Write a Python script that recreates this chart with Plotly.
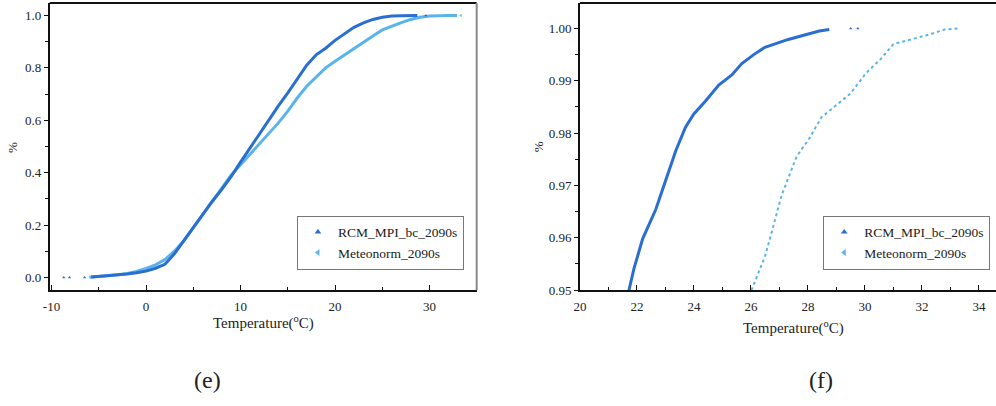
import plotly.graph_objects as go

# ---------------- data ----------------
# (e) full CDF
rcm_T = [-5.8, -5, -4, -3, -2, -1, 0, 1, 2, 3, 4, 5, 6, 7, 8, 9, 10, 11, 12, 13, 14,
         15, 16, 17, 18, 19, 20, 21, 22, 23, 24, 25, 26, 27, 28, 28.7]
rcm_P = [0.002, 0.004, 0.006, 0.009, 0.013, 0.018, 0.024, 0.035, 0.05, 0.09, 0.14,
         0.19, 0.24, 0.29, 0.335, 0.385, 0.44, 0.495, 0.55, 0.605, 0.655, 0.705, 0.76,
         0.81, 0.85, 0.875, 0.905, 0.93, 0.955, 0.972, 0.985, 0.993, 0.998, 0.9995, 1.0, 1.0]
rcm_iso_T = [-8.7, -8.1, -6.5, 29.6]
rcm_iso_P = [0.0, 0.0, 0.0, 1.0]

met_T = [-6, -5, -4, -3, -2, -1, 0, 1, 2, 3, 4, 5, 6, 7, 8, 9, 10, 11, 12, 13, 14, 15,
         16, 17, 18, 19, 20, 21, 22, 23, 24, 25, 26, 27, 28, 29, 30, 31, 32, 32.9]
met_P = [0.001, 0.003, 0.006, 0.01, 0.015, 0.023, 0.034, 0.048, 0.068, 0.1, 0.14, 0.19,
         0.24, 0.29, 0.34, 0.39, 0.43, 0.47, 0.51, 0.55, 0.59, 0.635, 0.685, 0.73, 0.765,
         0.8, 0.825, 0.85, 0.875, 0.9, 0.922, 0.945, 0.96, 0.973, 0.985, 0.993, 0.998,
         1.0, 1.0, 1.0]
met_iso_T = [33.3]
met_iso_P = [1.0]

# (f) upper tail
rcm_tail_T = [21.72, 21.9, 22.2, 22.66, 23.01, 23.36, 23.7, 23.99, 24.4, 24.87, 25.33,
              25.68, 26.1, 26.49, 27.31, 28.0, 28.4, 28.75]
rcm_tail_P = [0.95, 0.9542, 0.9598, 0.9654, 0.971, 0.9766, 0.9811, 0.9836, 0.9861,
              0.9892, 0.9911, 0.9933, 0.995, 0.9964, 0.9979, 0.9989, 0.9995, 0.9998]
rcm_tail_iso_T = [29.5, 29.75]
rcm_tail_iso_P = [1.0, 1.0]

met_tail_T = [26.02, 26.14, 26.32, 26.49, 26.7, 27.07, 27.6, 28.05, 28.47, 28.8, 29.5,
              30.03, 30.56, 31.0, 31.6, 32.3, 32.8, 33.3]
met_tail_P = [0.95, 0.9517, 0.9542, 0.9564, 0.9605, 0.968, 0.9755, 0.979, 0.983, 0.9845,
              0.9876, 0.9914, 0.9942, 0.997, 0.9979, 0.9989, 0.9998, 1.0]

series_names = ["RCM_MPI_bc_2090s", "Meteonorm_2090s"]
xticks_e = [-10, 0, 10, 20, 30]
yticks_e = [0.0, 0.2, 0.4, 0.6, 0.8, 1.0]
xticks_f = [20, 22, 24, 26, 28, 30, 32, 34]
yticks_f = [0.95, 0.96, 0.97, 0.98, 0.99, 1.00]

# ---------------- styling ----------------
DARK = "#2a6ed2"
LIGHT = "#5ab4eb"
FONT = "Liberation Serif, Times New Roman, serif"
TXT = "#222222"
W, H = 996, 406

fig = go.Figure()

# left panel
fig.add_trace(go.Scatter(x=met_T, y=met_P, mode="lines", line=dict(color=LIGHT, width=3),
                         showlegend=False, xaxis="x", yaxis="y"))
fig.add_trace(go.Scatter(x=rcm_T, y=rcm_P, mode="lines", line=dict(color=DARK, width=3),
                         showlegend=False, xaxis="x", yaxis="y"))
fig.add_trace(go.Scatter(x=rcm_iso_T, y=rcm_iso_P, mode="markers",
                         marker=dict(symbol="triangle-up", size=3, color=DARK),
                         showlegend=False, xaxis="x", yaxis="y"))
fig.add_trace(go.Scatter(x=met_iso_T, y=met_iso_P, mode="markers",
                         marker=dict(symbol="triangle-left", size=3, color=LIGHT),
                         showlegend=False, xaxis="x", yaxis="y"))

# right panel
fig.add_trace(go.Scatter(x=met_tail_T, y=met_tail_P, mode="lines",
                         line=dict(color=LIGHT, width=2, dash="dot"),
                         showlegend=False, xaxis="x2", yaxis="y2"))
fig.add_trace(go.Scatter(x=rcm_tail_T, y=rcm_tail_P, mode="lines",
                         line=dict(color=DARK, width=3),
                         showlegend=False, xaxis="x2", yaxis="y2"))
fig.add_trace(go.Scatter(x=rcm_tail_iso_T, y=rcm_tail_iso_P, mode="markers",
                         marker=dict(symbol="triangle-up", size=3, color=DARK),
                         showlegend=False, xaxis="x2", yaxis="y2"))

# legend-only traces
for leg, xa, ya in (("legend", "x", "y"), ("legend2", "x2", "y2")):
    fig.add_trace(go.Scatter(x=[None], y=[None], mode="markers", name=series_names[0],
                             marker=dict(symbol="triangle-up", size=6, color=DARK),
                             legend=leg, xaxis=xa, yaxis=ya))
    fig.add_trace(go.Scatter(x=[None], y=[None], mode="markers", name=series_names[1],
                             marker=dict(symbol="triangle-left", size=6, color=LIGHT),
                             legend=leg, xaxis=xa, yaxis=ya))

def px_x(p):
    return p / W

def px_y(p):
    return 1 - p / H

ydom = [px_y(296), px_y(3)]
tickfont = dict(family=FONT, size=13, color=TXT)
axis_common = dict(showgrid=False, zeroline=False, showline=True, linecolor="#111111",
                   linewidth=1.5, tickcolor="#111111", tickwidth=1.2, tickfont=tickfont)

def note(text, x, y, size, angle=0):
    return dict(text=text, x=px_x(x), y=px_y(y), xref="paper", yref="paper",
                xanchor="center", yanchor="middle", textangle=angle, showarrow=False,
                font=dict(family=FONT, size=size, color=TXT))

fig.update_layout(
    width=W, height=H, margin=dict(l=0, r=0, t=0, b=0),
    paper_bgcolor="white", plot_bgcolor="white",
    font=dict(family=FONT, color=TXT, size=13),
    xaxis=dict(domain=[px_x(43), px_x(473)], range=[-10.19, 34.98], anchor="y",
               tickvals=xticks_e, ticktext=[str(v) for v in xticks_e],
               ticks="inside", ticklen=5, ticklabelstandoff=3,
               minor=dict(tickvals=[-5, 5, 15, 25], ticks="inside", ticklen=3,
                          tickcolor="#111111"),
               **axis_common),
    yaxis=dict(domain=ydom, range=[-0.0487, 1.048], anchor="x",
               tickvals=yticks_e, ticktext=[f"{v:.1f}" for v in yticks_e],
               ticks="outside", ticklen=4,
               minor=dict(tickvals=[0.1, 0.3, 0.5, 0.7, 0.9], ticks="outside", ticklen=3,
                          tickcolor="#111111"),
               **axis_common),
    xaxis2=dict(domain=[px_x(577), 1.0], range=[20, 34.6], anchor="y2",
                tickvals=xticks_f, ticktext=[str(v) for v in xticks_f],
                ticks="inside", ticklen=5, ticklabelstandoff=3,
                minor=dict(tickvals=[21, 23, 25, 27, 29, 31, 33], ticks="inside", ticklen=3,
                           tickcolor="#111111"),
                **axis_common),
    yaxis2=dict(domain=ydom, range=[0.95, 1.00487], anchor="x2",
                tickvals=yticks_f, ticktext=[f"{v:.2f}" for v in yticks_f],
                ticks="outside", ticklen=4,
                minor=dict(tickvals=[0.955, 0.965, 0.975, 0.985, 0.995], ticks="outside",
                           ticklen=3, tickcolor="#111111"),
                **axis_common),
    legend=dict(x=px_x(292), y=px_y(220), xanchor="left", yanchor="top",
                bgcolor="white", bordercolor="#777777", borderwidth=1,
                font=dict(family=FONT, size=13.5, color=TXT),
                itemwidth=30, tracegroupgap=0),
    legend2=dict(x=px_x(822), y=px_y(220), xanchor="left", yanchor="top",
                 bgcolor="white", bordercolor="#777777", borderwidth=1,
                 font=dict(family=FONT, size=13.5, color=TXT),
                 itemwidth=30, tracegroupgap=0),
    shapes=[
        dict(type="line", xref="x domain", yref="y domain", x0=0, x1=1, y0=1, y1=1,
             line=dict(color="#111111", width=2)),
        dict(type="line", xref="x domain", yref="y domain", x0=1, x1=1, y0=0, y1=1,
             line=dict(color="#888888", width=2)),
        dict(type="line", xref="x2 domain", yref="y2 domain", x0=0, x1=1, y0=1, y1=1,
             line=dict(color="#111111", width=2)),
    ],
    annotations=[
        note("%", 5, 150, 13, -90),
        note("%", 535, 150, 13, -90),
        note("Temperature(<sup>o</sup>C)", 258, 329, 15),
        note("Temperature(<sup>o</sup>C)", 792, 334, 15),
        note("(e)", 202, 388, 24),
        note("(f)", 820, 388, 24),
    ],
)

fig.write_html("out.html")
